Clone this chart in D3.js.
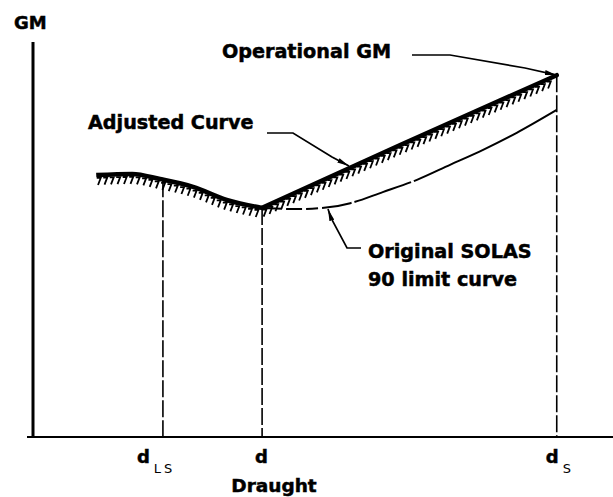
<!DOCTYPE html>
<html><head><meta charset="utf-8">
<script src="https://cdn.jsdelivr.net/npm/d3@7/dist/d3.min.js"></script>
<style>
html,body{margin:0;padding:0;background:#fff;}
svg{display:block;}
text{font-family:"DejaVu Sans",Verdana,sans-serif;fill:#000;}
text.b{font-weight:bold;stroke:#000;stroke-width:0.5px;}
</style></head>
<body>
<script>
// ---- data (abstract draught / GM units) ----
const solasX = [1.09, 1.71, 2.19, 2.76, 3.34, 3.95, 4.60, 5.12, 5.47, 6.03, 6.62, 7.19, 7.76, 8.34, 9.03];
const solasY = [6.63, 6.66, 6.53, 6.33, 6.00, 5.80, 5.77, 5.82, 5.92, 6.20, 6.51, 6.89, 7.27, 7.70, 8.28];
const adjustedX = [3.95, 6.33, 9.03];
const adjustedY = [5.80, 7.39, 9.16];
const draughtNames = ["d", "d", "d"];
const draughtSubs = ["LS", "", "S"];
const draughtX = [2.24, 3.95, 9.03];
const draughtTopY = [6.50, 5.80, 9.16];
const axisTitleX = "Draught";
const axisTitleY = "GM";
const labels = ["Operational GM", "Adjusted Curve", "Original SOLAS", "90 limit curve"];

const W = 613, H = 497;
const svg = d3.select("body").append("svg").attr("width", W).attr("height", H);

const x = d3.scaleLinear().domain([0, 10]).range([33, 613]);
const y = d3.scaleLinear().domain([0, 10]).range([437, 42]);

svg.append("defs").append("marker")
  .attr("id", "arr").attr("viewBox", "0 0 12 6").attr("refX", 12).attr("refY", 3)
  .attr("markerWidth", 12).attr("markerHeight", 6).attr("markerUnits", "userSpaceOnUse")
  .attr("orient", "auto")
  .append("path").attr("d", "M0,0.5 L12,3 L0,5.5 Z").attr("fill", "#000");

// axes
svg.append("line").attr("x1", 27).attr("x2", 613).attr("y1", y(0)).attr("y2", y(0))
  .attr("stroke", "#000").attr("stroke-width", 2);
svg.append("line").attr("x1", x(0)).attr("x2", x(0)).attr("y1", y(10)).attr("y2", y(0) + 1)
  .attr("stroke", "#000").attr("stroke-width", 3);

// vertical dashed draught lines
svg.append("g").selectAll("line").data(draughtX).join("line")
  .attr("x1", d => x(d)).attr("x2", d => x(d))
  .attr("y1", (d, i) => y(draughtTopY[i])).attr("y2", y(0))
  .attr("stroke", "#000").attr("stroke-width", 1.6).attr("stroke-dasharray", "17,3");

// curves
const solas = solasX.map((v, i) => [v, solasY[i]]);
const adjusted = adjustedX.map((v, i) => [v, adjustedY[i]]);
const dMain = draughtX[1];
const leftPart = solas.filter(p => p[0] <= dMain + 1e-9);
const rightPart = solas.filter(p => p[0] >= dMain - 1e-9);

const lineCurve = d3.line().x(p => x(p[0])).y(p => y(p[1])).curve(d3.curveMonotoneX);
const lineStraight = d3.line().x(p => x(p[0])).y(p => y(p[1])).curve(d3.curveLinear);

// thin original SOLAS curve (right part): dashed near the start, then solid
svg.append("path").attr("d", lineCurve(rightPart)).attr("fill", "none")
  .attr("stroke", "#000").attr("stroke-width", 2)
  .attr("stroke-dasharray", "20,4,16,4,12,4,30,3,60,3,2000");

// thick adjusted curve
const thickL = svg.append("path").attr("d", lineCurve(leftPart)).attr("fill", "none")
  .attr("stroke", "#000").attr("stroke-width", 4.5);
const thickR = svg.append("path").attr("d", lineStraight(adjusted)).attr("fill", "none")
  .attr("stroke", "#000").attr("stroke-width", 4.5).attr("stroke-linecap", "round");

// hatch marks under the thick curve ("7"-shaped ticks)
const hatch = svg.append("g").attr("stroke", "#000").attr("stroke-width", 1.8).attr("fill", "none");
[thickL.node(), thickR.node()].forEach(node => {
  const L = node.getTotalLength();
  for (let s = 3; s < L - 2; s += 6.5) {
    const p = node.getPointAtLength(s);
    hatch.append("path")
      .attr("d", `M${p.x - 2.5},${p.y + 3} L${p.x + 1.5},${p.y + 3} L${p.x - 1.2},${p.y + 10}`);
  }
});

// axis titles
svg.append("text").attr("class", "b").attr("x", 14).attr("y", 29).attr("font-size", 18).text(axisTitleY);
svg.append("text").attr("class", "b").attr("x", 274).attr("y", 492).attr("text-anchor", "middle")
  .attr("font-size", 18.5).text(axisTitleX);

// draught tick labels
const tl = svg.append("g").selectAll("text").data(draughtX).join("text")
  .attr("y", 463)
  .attr("x", (d, i) => i === 0 ? x(d) - 26 : i === 1 ? x(d) - 7 : x(d) - 11);
tl.append("tspan").attr("font-size", 18).attr("font-weight", "bold")
  .attr("stroke", "#000").attr("stroke-width", 0.5).text((d, i) => draughtNames[i]);
tl.append("tspan").attr("dx", 4).attr("dy", 10).attr("font-size", 13).attr("letter-spacing", 3)
  .text((d, i) => draughtSubs[i]);

// annotations
const big = 19.2;
svg.append("text").attr("class", "b").attr("x", 391).attr("y", 58).attr("text-anchor", "end")
  .attr("font-size", big).text(labels[0]);
svg.append("text").attr("class", "b").attr("x", 88).attr("y", 129)
  .attr("font-size", big).text(labels[1]);
svg.append("text").attr("class", "b").attr("x", 368).attr("y", 258)
  .attr("font-size", big).text(labels[2]);
svg.append("text").attr("class", "b").attr("x", 368).attr("y", 286)
  .attr("font-size", big).text(labels[3]);

// leader lines
const tipOp = [x(adjustedX[2]), y(adjustedY[2])];
const lead = d3.line().curve(d3.curveLinear);
svg.append("path").attr("d", lead([[412, 55], [450, 55], [525, 68], tipOp]))
  .attr("fill", "none").attr("stroke", "#000").attr("stroke-width", 1.7).attr("marker-end", "url(#arr)");
svg.append("path").attr("d", lead([[267, 133], [293, 133], [332, 157], [349, 166]]))
  .attr("fill", "none").attr("stroke", "#000").attr("stroke-width", 1.7).attr("marker-end", "url(#arr)");
svg.append("path").attr("d", lead([[361, 248], [347, 248], [331, 218], [328, 209]]))
  .attr("fill", "none").attr("stroke", "#000").attr("stroke-width", 1.7).attr("marker-end", "url(#arr)");
</script>
</body></html>
